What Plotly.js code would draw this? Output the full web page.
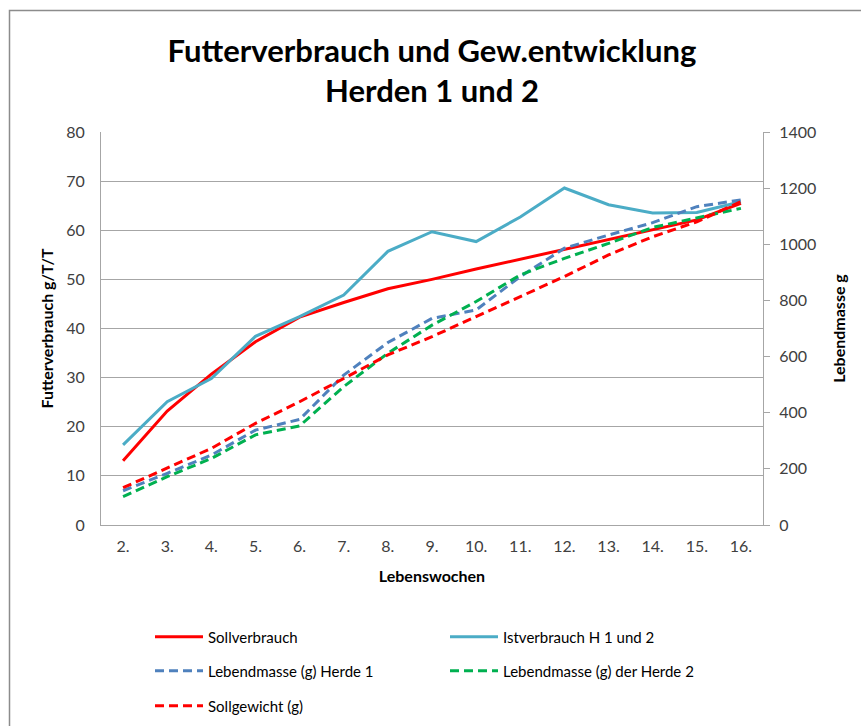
<!DOCTYPE html>
<html>
<head>
<meta charset="utf-8">
<script src="https://cdn.plot.ly/plotly-3.0.1.min.js"></script>
<style>
  html, body { margin: 0; padding: 0; background: #ffffff; }
  #chart { width: 861px; height: 726px; }
</style>
</head>
<body>
<div id="chart"></div>
<script>
// ---- data ----
const weeks = ["2.", "3.", "4.", "5.", "6.", "7.", "8.", "9.", "10.", "11.", "12.", "13.", "14.", "15.", "16."];
const sollverbrauch = [13.1, 23.2, 30.7, 37.3, 42.3, 45.3, 48.1, 50.0, 52.1, 54.1, 56.0, 58.0, 60.0, 62.1, 65.5];
const istverbrauch = [16.3, 25.1, 29.8, 38.4, 42.4, 46.8, 55.7, 59.7, 57.7, 62.7, 68.6, 65.2, 63.5, 63.6, 65.8];
const lebendHerde1 = [122, 184, 249, 338, 376, 534, 650, 736, 766, 885, 986, 1033, 1077, 1134, 1158];
const lebendHerde2 = [101, 172, 237, 321, 353, 493, 612, 712, 796, 891, 950, 1003, 1060, 1093, 1128];
const sollgewicht = [133, 202, 273, 362, 439, 522, 606, 671, 742, 813, 885, 962, 1027, 1080, 1152];

const titleText = "Futterverbrauch und Gew.entwicklung<br>Herden 1 und 2";
const xTitle = "Lebenswochen";
const yTitle = "Futterverbrauch g/T/T";
const y2Title = "Lebendmasse g";

const FONT = "Lato, 'Open Sans', sans-serif";
const GRID = "#a6a6a6";
const DASH = "9px,5px";

const traces = [
  { name: "Sollverbrauch", x: weeks, y: sollverbrauch, type: "scatter", mode: "lines",
    line: { color: "#ff0000", width: 3 }, yaxis: "y", legend: "legend" },
  { name: "Istverbrauch H 1 und 2", x: weeks, y: istverbrauch, type: "scatter", mode: "lines",
    line: { color: "#4bacc6", width: 3 }, yaxis: "y", legend: "legend" },
  { name: "Lebendmasse (g) Herde 1", x: weeks, y: lebendHerde1, type: "scatter", mode: "lines",
    line: { color: "#4f81bd", width: 3, dash: DASH }, yaxis: "y2", legend: "legend2" },
  { name: "Lebendmasse (g) der Herde 2", x: weeks, y: lebendHerde2, type: "scatter", mode: "lines",
    line: { color: "#00b050", width: 3, dash: DASH }, yaxis: "y2", legend: "legend2" },
  { name: "Sollgewicht (g)", x: weeks, y: sollgewicht, type: "scatter", mode: "lines",
    line: { color: "#ff0000", width: 3, dash: DASH }, yaxis: "y2", legend: "legend3" }
];

// plot area in pixels: x 101..763, y 132..525
const W = 861, H = 726;
const L = 101, R = W - 763, T = 132, B = H - 525;
const PW = W - L - R, PH = H - T - B;
const px = v => (v - L) / PW;
const py = v => (H - B - v) / PH;
const cx = v => v / W;
const cy = v => 1 - v / H;

const legendBase = {
  orientation: "h", xanchor: "left", yanchor: "middle",
  xref: "container", yref: "container",
  x: cx(150), bgcolor: "rgba(0,0,0,0)", borderwidth: 0,
  font: { family: FONT, size: 15, color: "#000000" },
  itemwidth: 48,
  entrywidth: 232, entrywidthmode: "pixels", traceorder: "normal"
};

const layout = {
  width: W, height: H,
  paper_bgcolor: "#ffffff", plot_bgcolor: "#ffffff",
  margin: { l: L, r: R, t: T, b: B },
  font: { family: FONT, color: "#404040" },
  title: {
    text: titleText,
    font: { family: FONT, size: 31, color: "#000000", weight: "bold" },
    x: 0.5, xanchor: "center", xref: "paper",
    y: cy(62), yanchor: "middle", yref: "container"
  },
  xaxis: {
    type: "category",
    range: [-0.5, weeks.length - 0.5],
    showgrid: false,
    showline: true, linecolor: GRID, linewidth: 1,
    ticks: "", tickfont: { family: FONT, size: 16, color: "#404040" },
    ticklabelstandoff: 7,
    title: { text: xTitle, font: { family: FONT, size: 16, color: "#000000", weight: "bold" }, standoff: 16 },
    zeroline: false, fixedrange: true
  },
  yaxis: {
    range: [0, 80], dtick: 10, tick0: 0,
    showgrid: true, gridcolor: GRID, gridwidth: 1,
    showline: true, linecolor: GRID, linewidth: 1,
    ticks: "", tickfont: { family: FONT, size: 16, color: "#404040" },
    ticklabelstandoff: 12,
    title: { text: yTitle, font: { family: FONT, size: 16, color: "#000000", weight: "bold" }, standoff: 8 },
    zeroline: false, fixedrange: true
  },
  yaxis2: {
    overlaying: "y", side: "right",
    range: [0, 1400], dtick: 200, tick0: 0,
    showgrid: false,
    showline: true, linecolor: GRID, linewidth: 1,
    ticks: "outside", ticklen: 6, tickcolor: GRID, tickwidth: 1,
    tickfont: { family: FONT, size: 16, color: "#404040" },
    ticklabelstandoff: 6,
    title: { text: y2Title, font: { family: FONT, size: 16, color: "#000000", weight: "bold" }, standoff: 18 },
    zeroline: false, fixedrange: true
  },
  legend: Object.assign({}, legendBase, { y: cy(637) }),
  legend2: Object.assign({}, legendBase, { y: cy(671) }),
  legend3: Object.assign({}, legendBase, { y: cy(706) }),
  shapes: [
    { type: "rect", xref: "paper", yref: "paper",
      x0: px(9.5), x1: px(900), y0: py(800), y1: py(10.5),
      line: { color: "#8c8c8c", width: 1.5 }, fillcolor: "rgba(0,0,0,0)", layer: "below" }
  ],
  showlegend: true
};

Plotly.newPlot("chart", traces, layout, { displayModeBar: false, staticPlot: true });
</script>
</body>
</html>
